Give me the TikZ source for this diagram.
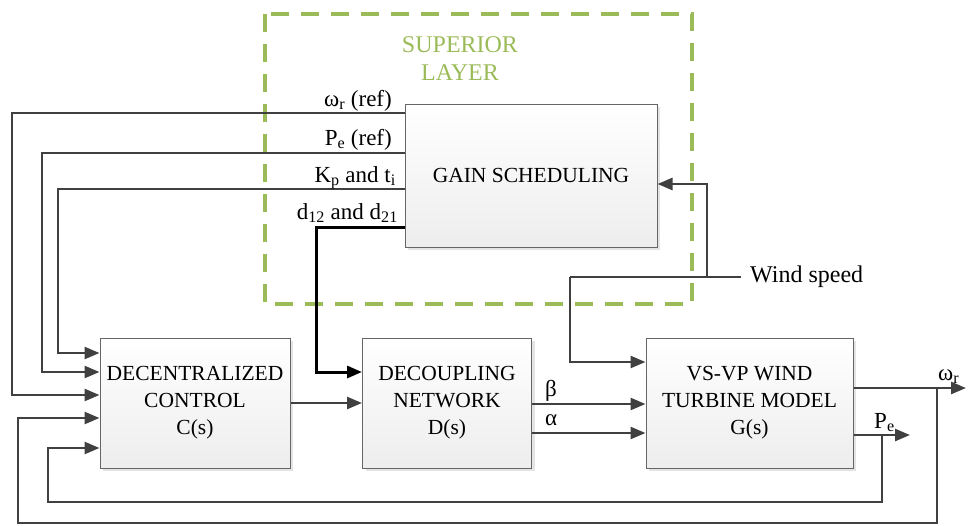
\documentclass[tikz,border=0pt]{standalone}
\usepackage{fontspec}
\setmainfont{Liberation Serif}
\usetikzlibrary{arrows.meta,shadows}
\definecolor{lgreen}{HTML}{9BBB59}
\definecolor{lgray}{HTML}{404040}
\begin{document}
\begin{tikzpicture}[x=1pt,y=-1pt,
  box/.style={draw=gray!80!black, line width=1pt, top color=white, bottom color=gray!14,
    drop shadow={shadow xshift=3pt, shadow yshift=-3pt, fill=gray!35, opacity=0.6},
    inner sep=0pt, align=center, font=\fontsize{21.5}{27}\selectfont},
  conn/.style={draw=lgray, line width=2.6pt, -{Triangle[length=15pt,width=12pt]}},
  plain/.style={draw=lgray, line width=2.6pt},
  lbl/.style={inner sep=0pt, font=\fontsize{23}{26}\selectfont},
  layer/.style={draw=lgreen, line width=3.2pt, dash pattern=on 18pt off 12pt}]
\useasboundingbox (0,0) rectangle (969,525);
% superior layer
\draw[layer] (265,14) rectangle (692,304);
\node[lbl, text=lgreen, align=center, font=\fontsize{24}{28}\selectfont] (sl) at (460,59) {SUPERIOR\\LAYER};
% boxes
\node[box, minimum width=252pt, minimum height=143pt] (gs) at (531,175.5) {GAIN SCHEDULING};
\node[box, minimum width=190pt, minimum height=130pt] (cs) at (195,403) {DECENTRALIZED\\CONTROL\\C(s)};
\node[box, minimum width=169pt, minimum height=130pt] (ds) at (447,403) {DECOUPLING\\NETWORK\\D(s)};
\node[box, minimum width=207pt, minimum height=130pt] (gm) at (749.5,403) {VS-VP WIND\\TURBINE MODEL\\G(s)};
% references from gain scheduling
\draw[conn] (gs.west |- 0,113) -- (12,113) |- (cs.west |- 0,395);
\draw[conn] (gs.west |- 0,153) -- (42,153) |- (cs.west |- 0,372);
\draw[conn] (gs.west |- 0,189) -- (58,189) |- (cs.west |- 0,353);
\draw[conn, draw=black, line width=3pt] (gs.west |- 0,227) -- (316,227) |- (ds.west |- 0,372);
\node[lbl, anchor=base east] (l1) at (392,106) {ω\textsubscript{r} (ref)};
\node[lbl, anchor=base east] (l2) at (392,145) {P\textsubscript{e} (ref)};
\node[lbl, anchor=base east] (l3) at (396,182) {K\textsubscript{p} and t\textsubscript{i}};
\node[lbl, anchor=base east] (l4) at (398,219) {d\textsubscript{12} and d\textsubscript{21}};
% wind speed
\node[lbl, anchor=west, font=\fontsize{24}{28}\selectfont] (ws) at (750,277) {Wind speed};
\coordinate (wj) at (707,277);
\draw[plain] (ws.west) ++(-9,0) coordinate (wse) -- (570,277) coordinate (wl);
\draw[conn] (wj) |- (gs.east |- 0,184);
\draw[conn] (wl) |- (gm.west |- 0,362);
% forward path
\draw[conn] (cs.east |- 0,403) -- (ds.west |- 0,403);
\draw[conn] (ds.east |- 0,404) -- (gm.west |- 0,404);
\draw[conn] (ds.east |- 0,433) -- (gm.west |- 0,433);
\node[lbl, anchor=base west] (beta) at (545,396) {β};
\node[lbl, anchor=base west] (alpha) at (545,425) {α};
% outputs
\coordinate (wout) at (966,388);
\coordinate (pout) at (910,435);
\draw[conn] (gm.east |- wout) -- (wout);
\draw[conn] (gm.east |- pout) -- (pout);
\node[lbl, anchor=base west] (wr) at (938,380) {ω\textsubscript{r}};
\node[lbl, anchor=base west] (pe) at (874,428) {P\textsubscript{e}};
% feedback
\draw[conn] (937,388) -- (937,523) -- (18,523) |- (cs.west |- 0,418);
\draw[conn] (882,435) -- (882,502) -- (48,502) |- (cs.west |- 0,448);
\end{tikzpicture}
\end{document}
